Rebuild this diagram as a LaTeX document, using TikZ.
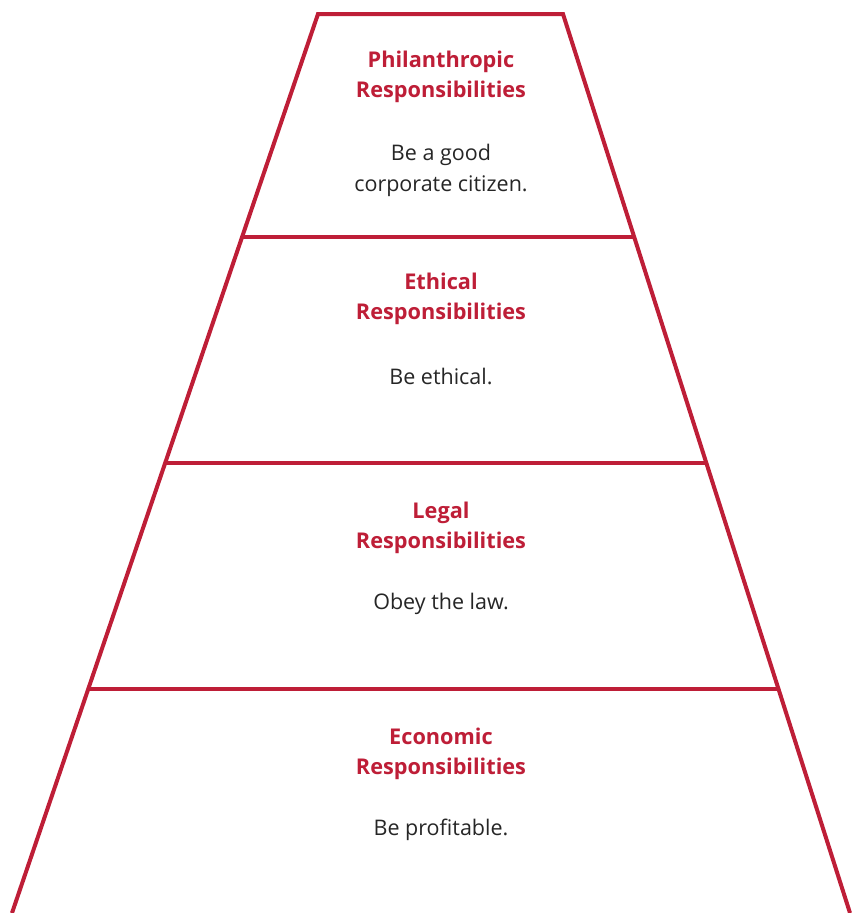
\documentclass[tikz,border=0pt]{standalone}
\usepackage{fontspec}
\setmainfont{Open Sans}
\usetikzlibrary{calc}
\definecolor{crimson}{RGB}{190,30,55}
\newcommand{\textphil}{Philanthropic\\ Responsibilities}
\newcommand{\textethic}{Ethical\\ Responsibilities}
\newcommand{\textlegal}{Legal\\ Responsibilities}
\newcommand{\textecon}{Economic\\ Responsibilities}

\begin{document}
\begin{tikzpicture}[
    x=1pt,y=-1pt,
    edge/.style={draw=crimson,line width=4pt},
    tiertitle/.style={text=crimson,font=\bfseries\fontsize{21.7}{30}\selectfont,align=center},
    tierbody/.style={text=black!85,font=\fontsize{21.5}{31}\selectfont,align=center}
]
\useasboundingbox (0,0) rectangle (853,913);

\coordinate (tl) at (318,14);
\coordinate (tr) at (563,14);
\coordinate (bl) at (12,913);
\coordinate (br) at (850,913);

\draw[edge] (bl) -- (tl) -- (tr) -- (br);
\foreach \f in {0.248,0.4994,0.7508}
  \draw[edge] ($(tl)!\f!(bl)$) -- ($(tr)!\f!(br)$);

\node[tiertitle] (phil) at (441,77) {\textphil};
\node[tierbody] (philtxt) at (441,170) {Be a good\\ corporate citizen.};
\node[tiertitle] (ethic) at (441,299) {\textethic};
\node[tierbody] (ethictxt) at (441,376) {Be ethical.};
\node[tiertitle] (legal) at (441,528) {\textlegal};
\node[tierbody] (legaltxt) at (441,604) {Obey the law.};
\node[tiertitle] (econ) at (441,754) {\textecon};
\node[tierbody] (econtxt) at (441,830) {Be profitable.};
\end{tikzpicture}
\end{document}
